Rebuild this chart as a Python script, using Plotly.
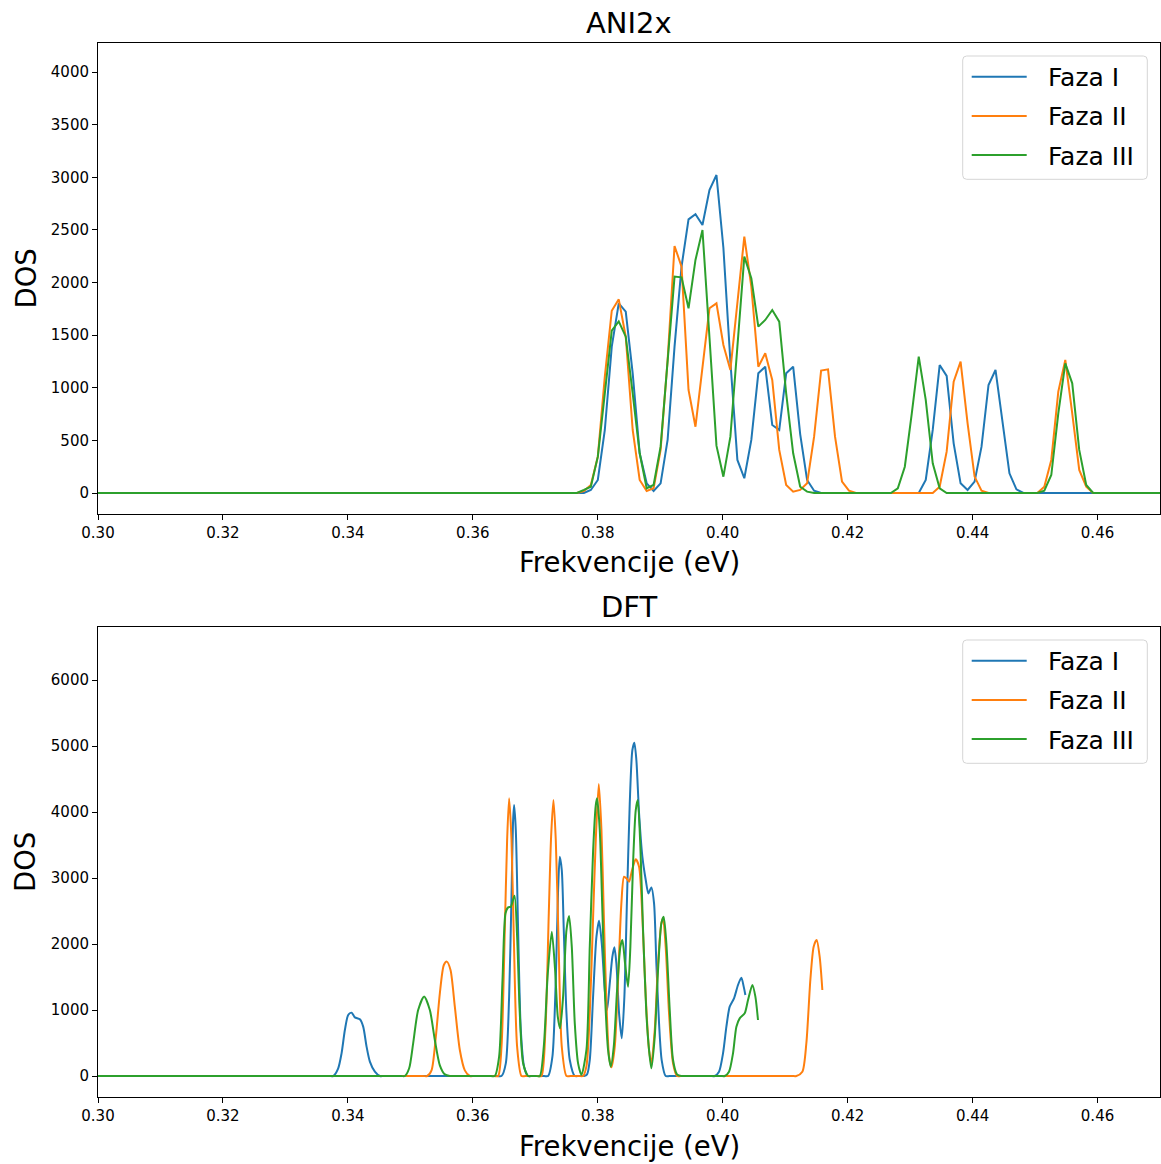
import plotly.graph_objects as go

# ---------------- ANI2x (binned DOS, grid index i = -6 .. 69) ----------------
ani_x0 = 0.38336
ani_step = 0.0011168
ani_idx = list(range(-6, 70))

ani_faza1 = [0, 0, 29, 124, 599, 1391, 1802, 1723, 1137, 377, 92, 19, 92, 504, 1391, 2151,
             2600, 2648, 2546, 2879, 3021, 2330, 1250, 314, 140, 504, 1137, 1200, 646, 599,
             1137, 1200, 560, 124, 22, 0, 0, 0, 0, 0, 0, 0, 0, 0, 0, 0, 0, 0, 0, 0,
             124, 599, 1216, 1112, 472, 92, 29, 108, 440, 1026, 1169, 662, 187, 35, 0, 0,
             0, 0, 0, 0, 0, 0, 0, 0, 0, 0]
ani_faza2 = [0, 19, 76, 345, 1106, 1732, 1840, 1485, 599, 124, 19, 45, 409, 1264, 2347, 2151,
             979, 630, 1200, 1755, 1802, 1406, 1169, 1802, 2436, 1961, 1200, 1327, 1074, 409,
             76, 13, 29, 92, 535, 1163, 1175, 535, 108, 22, 0, 0, 0, 0, 0, 0, 0, 0, 0, 0,
             0, 0, 60, 393, 1058, 1248, 662, 156, 22, 0, 0, 0, 0, 0, 0, 0,
             0, 60, 314, 963, 1264, 757, 219, 60, 0, 0]
ani_faza3 = [0, 29, 60, 345, 947, 1543, 1631, 1485, 947, 377, 45, 76, 440, 1264, 2056, 2049,
             1755, 2214, 2499, 1480, 450, 155, 535, 1391, 2246, 2040, 1581, 1644, 1739, 1628,
             947, 377, 60, 13, 0, 0, 0, 0, 0, 0, 0, 0, 0, 0, 0, 0, 45, 250, 757, 1296,
             884, 282, 45, 0, 0, 0, 0, 0, 0, 0, 0, 0, 0, 0, 0, 0,
             0, 22, 171, 757, 1232, 1042, 409, 76, 0, 0]
ani_pad_lo, ani_pad_hi = 0.28, 0.48

# ---------------- DFT (broadened DOS) ----------------
dft_x1 = [0.28, 0.33700, 0.33765, 0.33845, 0.33899, 0.33952, 0.34005, 0.34059, 0.34112, 0.34192,
          0.34245, 0.34299, 0.34352, 0.34432, 0.34512, 0.34580, 0.36390, 0.36459, 0.36528,
          0.36581, 0.36619, 0.36645, 0.36661, 0.36688, 0.36725, 0.36768, 0.36821, 0.36885,
          0.36950, 0.37140, 0.37205, 0.37274, 0.37328, 0.37365, 0.37392, 0.37424, 0.37456,
          0.37499, 0.37552, 0.37632, 0.37700, 0.37780, 0.37829, 0.37872, 0.37925, 0.37979,
          0.38021, 0.38064, 0.38112, 0.38149, 0.38192, 0.38234, 0.38266, 0.38298, 0.38341,
          0.38384, 0.38426, 0.38469, 0.38512, 0.38554, 0.38586, 0.38618, 0.38661, 0.38714,
          0.38768, 0.38810, 0.38858, 0.38901, 0.38938, 0.38981, 0.39023, 0.39087, 0.39150,
          0.39800, 0.39872, 0.39941, 0.40005, 0.40059, 0.40112, 0.40181, 0.40245, 0.40299,
          0.40336, 0.40363]
dft_y1 = [0, 0, 0, 117, 344, 697, 925, 960, 889, 859,
          748, 445, 218, 66, 0, 0, 0, 0, 192,
          1202, 2717, 3878, 4106, 3727, 2212, 697, 141, 0,
          0, 0, 0, 293, 1454, 2818, 3323, 3121, 2212,
          949, 242, 0, 0, 0, 25, 242, 1202, 2111,
          2353, 2010, 1303, 999, 1404, 1808, 1949, 1707, 949,
          571, 1202, 2717, 4131, 4939, 5050, 4788, 3980, 3323,
          2970, 2767, 2858, 2616, 1707, 798, 242, 0, 0,
          0, 0, 66, 344, 748, 1051, 1177, 1379, 1490,
          1354, 1228]

dft_x2 = [0.28, 0.35200, 0.35269, 0.35339, 0.35408, 0.35472, 0.35536, 0.35584, 0.35643, 0.35712,
          0.35792, 0.35872, 0.35952, 0.36020, 0.36340, 0.36405, 0.36459, 0.36512, 0.36549,
          0.36581, 0.36619, 0.36656, 0.36709, 0.36779, 0.36840, 0.37040, 0.37099, 0.37162,
          0.37216, 0.37253, 0.37291, 0.37328, 0.37371, 0.37424, 0.37499, 0.37560, 0.37700,
          0.37765, 0.37819, 0.37872, 0.37925, 0.37968, 0.38016, 0.38059, 0.38096, 0.38139,
          0.38181, 0.38219, 0.38272, 0.38325, 0.38378, 0.38421, 0.38459, 0.38501, 0.38549,
          0.38608, 0.38661, 0.38714, 0.38768, 0.38821, 0.38858, 0.38912, 0.38965, 0.39018,
          0.39045, 0.39087, 0.39141, 0.39205, 0.39269, 0.39330, 0.41110, 0.41179, 0.41275,
          0.41339, 0.41403, 0.41456, 0.41504, 0.41552, 0.41595]
dft_y2 = [0, 0, 0, 86, 596, 1253, 1682, 1733, 1606, 1051,
          394, 86, 0, 0, 0, 0, 444, 2212, 3576,
          4207, 3576, 2111, 444, 0, 0, 0, 0, 697,
          2465, 3626, 4182, 3576, 2111, 444, 0, 0, 0,
          0, 150, 949, 2400, 3576, 4424, 3727, 2465, 1101,
          293, 131, 444, 1454, 2616, 3020, 2995, 2944, 3121,
          3283, 3172, 2414, 1202, 394, 192, 697, 1707, 2313,
          2389, 1960, 949, 192, 0, 0, 0, 0, 66,
          496, 1455, 1960, 2061, 1808, 1303]

dft_x3 = [0.28, 0.34850, 0.34912, 0.34981, 0.35045, 0.35125, 0.35221, 0.35312, 0.35392, 0.35472,
          0.35552, 0.35632, 0.35700, 0.36290, 0.36352, 0.36421, 0.36475, 0.36523, 0.36565,
          0.36608, 0.36667, 0.36709, 0.36752, 0.36805, 0.36885, 0.36950, 0.37010, 0.37072,
          0.37136, 0.37200, 0.37264, 0.37317, 0.37360, 0.37397, 0.37445, 0.37499, 0.37541,
          0.37584, 0.37632, 0.37685, 0.37739, 0.37819, 0.37872, 0.37925, 0.37968, 0.37989,
          0.38032, 0.38075, 0.38117, 0.38165, 0.38208, 0.38256, 0.38309, 0.38362, 0.38394,
          0.38437, 0.38485, 0.38522, 0.38565, 0.38608, 0.38640, 0.38682, 0.38725, 0.38778,
          0.38821, 0.38858, 0.38912, 0.38965, 0.39018, 0.39055, 0.39098, 0.39152, 0.39205,
          0.39269, 0.39338, 0.39400, 0.39970, 0.40032, 0.40101, 0.40165, 0.40219, 0.40272,
          0.40352, 0.40405, 0.40475, 0.40523, 0.40565]
dft_y3 = [0, 0, 0, 117, 495, 1000, 1203, 1000, 546, 162,
          25, 0, 0, 0, 0, 293, 1454, 2465, 2555,
          2565, 2732, 2111, 949, 192, 0, 0, 0, 0,
          444, 1555, 2187, 1606, 899, 722, 1202, 2212, 2424,
          1960, 798, 192, 20, 400, 1960, 3400, 4100, 4207,
          3727, 2465, 1202, 394, 141, 444, 1303, 1960, 2061,
          1707, 1354, 1960, 3222, 4030, 4182, 3475, 2212, 949,
          394, 116, 596, 1606, 2313, 2414, 2010, 999, 242,
          25, 0, 0, 0, 0, 66, 344, 748, 874,
          950, 1152, 1379, 1202, 849]

series_names = ["Faza I", "Faza II", "Faza III"]
colors = ["#1f77b4", "#ff7f0e", "#2ca02c"]
x_ticks = [0.30, 0.32, 0.34, 0.36, 0.38, 0.40, 0.42, 0.44, 0.46]

ani_x = [ani_pad_lo] + [round(ani_x0 + ani_step * i, 5) for i in ani_idx] + [ani_pad_hi]

fig = go.Figure()
for name, col, ys in zip(series_names, colors, [ani_faza1, ani_faza2, ani_faza3]):
    fig.add_trace(go.Scatter(x=ani_x, y=[0] + ys + [0], mode="lines", name=name,
                             line=dict(color=col, width=2), xaxis="x", yaxis="y",
                             showlegend=False))
for name, col, xs, ys in zip(series_names, colors, [dft_x1, dft_x2, dft_x3],
                             [dft_y1, dft_y2, dft_y3]):
    fig.add_trace(go.Scatter(x=xs, y=ys, mode="lines", name=name,
                             line=dict(color=col, width=2, shape="spline", smoothing=0.7),
                             xaxis="x2", yaxis="y2", showlegend=False))

W, H = 1161, 1164
L, R = 98, 1160
top_t, top_b = 43, 514
bot_t, bot_b = 627, 1097
FONT = "DejaVu Sans"

axis_common = dict(showline=True, linecolor="black", linewidth=1, mirror=True,
                   ticks="outside", ticklen=5, tickwidth=1, tickcolor="black",
                   showgrid=False, zeroline=False, automargin=False,
                   tickfont=dict(family=FONT, size=15, color="black"))

fig.update_layout(
    width=W, height=H,
    margin=dict(l=0, r=0, t=0, b=0, autoexpand=False),
    paper_bgcolor="white", plot_bgcolor="white",
    font=dict(family=FONT, color="black"),
    showlegend=False,
    xaxis=dict(domain=[L / W, R / W], anchor="y", range=[0.30, 0.47],
               tickvals=x_ticks, ticktext=[f"{v:.2f}" for v in x_ticks], **axis_common),
    yaxis=dict(domain=[1 - top_b / H, 1 - top_t / H], anchor="x", range=[-199.5, 4275.5],
               tickvals=list(range(0, 4001, 500)), **axis_common),
    xaxis2=dict(domain=[L / W, R / W], anchor="y2", range=[0.30, 0.47],
                tickvals=x_ticks, ticktext=[f"{v:.2f}" for v in x_ticks], **axis_common),
    yaxis2=dict(domain=[1 - bot_b / H, 1 - bot_t / H], anchor="x2", range=[-318, 6803],
                tickvals=list(range(0, 6001, 1000)), **axis_common),
)


def px(xp):
    return xp / W


def py(yp):
    return 1 - yp / H


ann = []
shapes = []
cx = (L + R) / 2 / W
ann.append(dict(text="ANI2x", x=cx, y=py(23), xref="paper", yref="paper",
                showarrow=False, xanchor="center", yanchor="middle",
                font=dict(family=FONT, size=29, color="black")))
ann.append(dict(text="DFT", x=cx, y=py(607), xref="paper", yref="paper",
                showarrow=False, xanchor="center", yanchor="middle",
                font=dict(family=FONT, size=29, color="black")))
for yc in [562, 1146]:
    ann.append(dict(text="Frekvencije (eV)", x=cx, y=py(yc), xref="paper", yref="paper",
                    showarrow=False, xanchor="center", yanchor="middle",
                    font=dict(family=FONT, size=27.5, color="black")))
for yc in [(top_t + top_b) / 2, (bot_t + bot_b) / 2]:
    ann.append(dict(text="DOS", x=25 / W, y=py(yc), xref="paper", yref="paper",
                    showarrow=False, xanchor="center", yanchor="middle", textangle=-90,
                    font=dict(family=FONT, size=27.5, color="black")))

# matplotlib-style legends (upper right of each panel)
for off in [0, bot_t - top_t]:
    x0, x1 = 962.7, 1147.3
    y0, y1 = 56 + off, 179.3 + off
    r = 4
    path = (f"M {px(x0 + r)},{py(y0)} L {px(x1 - r)},{py(y0)} "
            f"Q {px(x1)},{py(y0)} {px(x1)},{py(y0 + r)} "
            f"L {px(x1)},{py(y1 - r)} Q {px(x1)},{py(y1)} {px(x1 - r)},{py(y1)} "
            f"L {px(x0 + r)},{py(y1)} Q {px(x0)},{py(y1)} {px(x0)},{py(y1 - r)} "
            f"L {px(x0)},{py(y0 + r)} Q {px(x0)},{py(y0)} {px(x0 + r)},{py(y0)} Z")
    shapes.append(dict(type="path", path=path, xref="paper", yref="paper",
                       fillcolor="rgba(255,255,255,0.8)",
                       line=dict(color="#d5d5d5", width=1), layer="above"))
    for k, (name, col) in enumerate(zip(series_names, colors)):
        yr = 76.7 + off + k * 39.2
        shapes.append(dict(type="line", xref="paper", yref="paper",
                           x0=px(971.7), x1=px(1026.7), y0=py(yr), y1=py(yr),
                           line=dict(color=col, width=2), layer="above"))
        ann.append(dict(text=name, x=px(1046), y=py(yr + 1), xref="paper", yref="paper",
                        showarrow=False, xanchor="left", yanchor="middle",
                        font=dict(family=FONT, size=25, color="black")))

fig.update_layout(annotations=ann, shapes=shapes)

fig.write_html("out.html",
               config={"displayModeBar": False},
               post_script="document.body.style.margin='0';"
                           "document.body.style.overflow='hidden';")
